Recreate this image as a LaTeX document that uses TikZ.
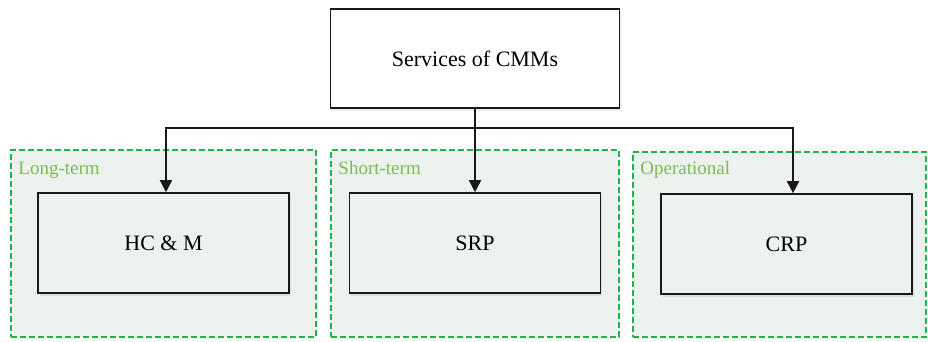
\documentclass[tikz,border=0pt]{standalone}
\usepackage{fontspec}
\setmainfont{Liberation Serif}
\usetikzlibrary{arrows.meta,shadows,calc}
\definecolor{grpfill}{HTML}{EEF2EE}
\definecolor{grpline}{HTML}{22B24C}
\definecolor{grplabel}{HTML}{7DBB55}
\tikzset{
  box/.style={draw=black!90, line width=1.6pt, rectangle, inner sep=0pt,
    font=\fontsize{22}{24}\selectfont,
    drop shadow={opacity=0.08, shadow xshift=1.5pt, shadow yshift=-3pt, fill=blue!50!black}},
  grp/.style={draw=grpline, dashed, dash pattern=on 6pt off 3pt, line width=1.5pt, fill=grpfill, rectangle, inner sep=0pt},
  grplbl/.style={text=grplabel, font=\fontsize{19}{20}\selectfont, anchor=base west, inner sep=0pt},
  arr/.style={draw=black!90, line width=1.6pt, -{Triangle[length=12pt,width=12pt]}},
  wire/.style={draw=black!90, line width=1.6pt}
}
\begin{document}
\begin{tikzpicture}[x=1pt,y=-1pt]
\useasboundingbox (0,0) rectangle (928,342);
% groups
\node[grp, minimum width=305pt, minimum height=187pt] (g1) at (163.5,243.5) {};
\node[grp, minimum width=288pt, minimum height=187pt] (g2) at (475,243.5) {};
\node[grp, minimum width=293pt, minimum height=185pt] (g3) at (779.5,244.5) {};
\node[grplbl] (l1) at ([shift={(8,25)}]g1.north west) {Long-term};
\node[grplbl] (l2) at ([shift={(8,25)}]g2.north west) {Short-term};
\node[grplbl] (l3) at ([shift={(8,23)}]g3.north west) {Operational};
% boxes
\node[box, fill=white, minimum width=289pt, minimum height=99pt] (top) at (475,58.5) {Services of CMMs};
\node[box, fill=grpfill, minimum width=251pt, minimum height=100pt] (hcm) at (163.5,243) {HC \& M};
\node[box, fill=grpfill, minimum width=251pt, minimum height=100pt] (srp) at (475,243) {SRP};
\node[box, fill=grpfill, minimum width=251pt, minimum height=100pt] (crp) at (786.5,244) {CRP};
% connectors
\coordinate (bus) at (0,128);
\coordinate (j) at (top.south |- bus);
\draw[wire] (top.south) -- (j);
\draw[arr] (j) -| ([xshift=2.5pt]hcm.north);
\draw[arr] (j) -- (srp.north);
\draw[arr] (j) -| ([xshift=6.5pt]crp.north);
\end{tikzpicture}
\end{document}
